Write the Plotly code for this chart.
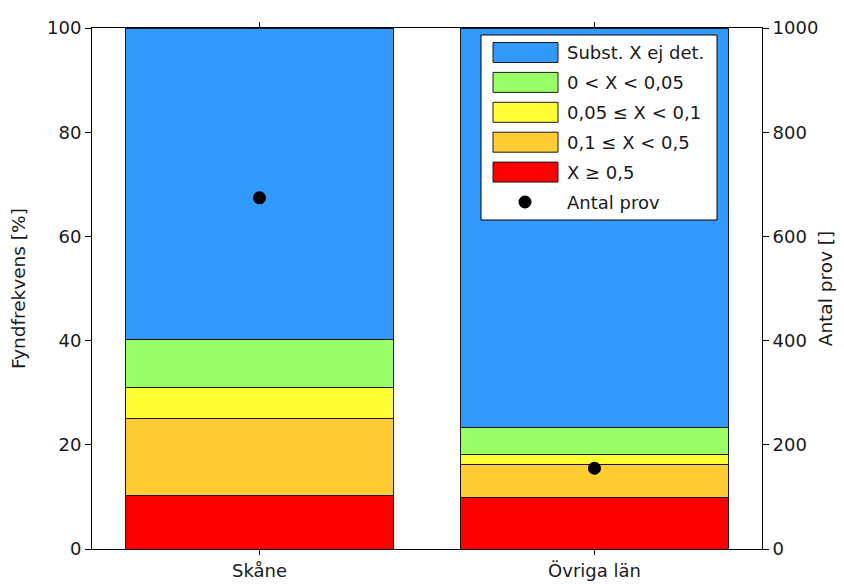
import plotly.graph_objects as go

categories = ["Skåne", "Övriga län"]
series_names = ["X ≥ 0,5", "0,1 ≤ X < 0,5", "0,05 ≤ X < 0,1", "0 < X < 0,05", "Subst. X ej det."]
red_vals = [10.2, 9.8]
orange_vals = [14.8, 6.5]
yellow_vals = [6.0, 1.9]
green_vals = [9.3, 5.2]
blue_vals = [59.7, 76.6]
antal_prov = [674, 155]
point_name = "Antal prov"

colors = ["#FF0000", "#FFCC33", "#FFFF33", "#99FF66", "#3399FF"]
values = [red_vals, orange_vals, yellow_vals, green_vals, blue_vals]

FONT = "DejaVu Sans, Arial, sans-serif"
FS = 18
TFS = 18.5
TXT = "#1a1a1a"

# figure geometry (page body adds an 8px offset)
W, H = 836, 576
L, R, T, B = 84, 82, 20, 35
PW, PH = W - L - R, H - T - B

def px(xa, ya):
    # convert absolute screenshot pixel (with 8px body offset) to paper coords
    return ((xa - 8 - L) / PW, (H - B - (ya - 8)) / PH)

fig = go.Figure()
for name, vals, col in zip(series_names, values, colors):
    fig.add_trace(go.Bar(
        x=categories, y=vals, name=name,
        marker=dict(color=col, line=dict(color="#1a1a1a", width=1)),
        width=0.8, showlegend=False,
    ))
fig.add_trace(go.Scatter(
    x=categories, y=antal_prov, name=point_name, mode="markers", yaxis="y2",
    marker=dict(color="black", size=13), showlegend=False,
))

# custom legend (wide colour swatches like the original)
shapes = []
annotations = []
bx0, by0 = px(481, 35)
bx1, by1 = px(717, 220)
shapes.append(dict(type="rect", xref="paper", yref="paper", x0=bx0, x1=bx1, y0=by1, y1=by0,
                   fillcolor="white", line=dict(color="black", width=1), layer="above"))
leg_order = list(zip(series_names, colors))[::-1]
for i, (name, col) in enumerate(leg_order):
    yc = 52.5 + 29.9 * i
    x0, y0 = px(493, yc - 10)
    x1, y1 = px(558, yc + 10)
    shapes.append(dict(type="rect", xref="paper", yref="paper", x0=x0, x1=x1, y0=y1, y1=y0,
                       fillcolor=col, line=dict(color="#1a1a1a", width=1), layer="above"))
    tx, ty = px(565, yc)
    annotations.append(dict(text=name, xref="paper", yref="paper", x=tx, y=ty, xanchor="left",
                            yanchor="middle", showarrow=False, font=dict(family=FONT, size=FS, color=TXT)))
yc = 52.5 + 29.9 * 5
cx0, cy0 = px(525 - 6.5, yc - 6.5)
cx1, cy1 = px(525 + 6.5, yc + 6.5)
shapes.append(dict(type="circle", xref="paper", yref="paper", x0=cx0, x1=cx1, y0=cy1, y1=cy0,
                   fillcolor="black", line=dict(color="black", width=0), layer="above"))
tx, ty = px(565, yc)
annotations.append(dict(text=point_name, xref="paper", yref="paper", x=tx, y=ty, xanchor="left",
                        yanchor="middle", showarrow=False, font=dict(family=FONT, size=FS, color=TXT)))

fig.update_layout(
    barmode="stack",
    width=W, height=H,
    margin=dict(l=L, r=R, t=T, b=B),
    paper_bgcolor="white", plot_bgcolor="white",
    font=dict(family=FONT, size=FS, color=TXT),
    showlegend=False,
    shapes=shapes, annotations=annotations,
    xaxis=dict(
        range=[-0.5, 1.5], showline=True, linecolor="black", linewidth=1,
        mirror="ticks", ticks="outside", ticklen=5, tickcolor="black",
        showgrid=False, automargin=False, tickfont=dict(size=FS),
    ),
    yaxis=dict(
        range=[0, 100], tickvals=[0, 20, 40, 60, 80, 100], showline=True, linecolor="black",
        ticks="outside", ticklen=6, tickcolor="black", showgrid=False, zeroline=False,
        automargin=False, tickfont=dict(size=FS),
        title=dict(text="Fyndfrekvens [%]", standoff=16, font=dict(size=TFS)),
    ),
    yaxis2=dict(
        range=[0, 1000], tickvals=[0, 200, 400, 600, 800, 1000], overlaying="y", side="right",
        showline=True, linecolor="black", ticks="outside", ticklen=6, tickcolor="black",
        showgrid=False, zeroline=False, automargin=False, tickfont=dict(size=FS),
        title=dict(text="Antal prov []", standoff=1, font=dict(size=TFS)),
    ),
)

fig.write_html("out.html")
